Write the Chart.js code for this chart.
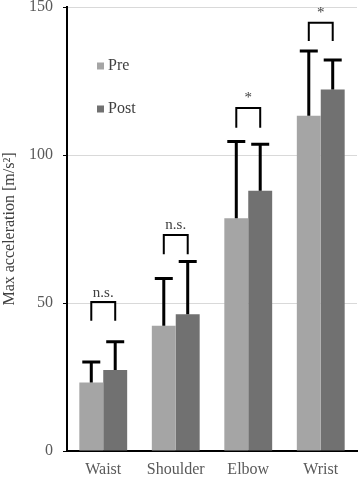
<!DOCTYPE html>
<html>
<head>
<meta charset="utf-8">
<script src="https://cdn.jsdelivr.net/npm/chart.js@4.4.1/dist/chart.umd.min.js"></script>
<style>
  html, body { margin: 0; padding: 0; background: #fff; }
  #wrap { width: 359px; height: 477px; }
</style>
</head>
<body>
<div id="wrap"><canvas id="accChart" width="359" height="477"></canvas></div>
<script>
// data
const categories = ['Waist', 'Shoulder', 'Elbow', 'Wrist'];
const preMean = [23.1, 42.3, 78.6, 113.3];
const preSD = [7.0, 16.0, 26.0, 21.8];
const postMean = [27.4, 46.2, 87.9, 122.1];
const postSD = [9.5, 17.8, 15.7, 10.0];
// significance brackets: top of bracket, bottom of legs, label
const bracketTop = [50.3, 73.0, 115.9, 144.7];
const bracketLeg = [44.0, 66.5, 109.2, 138.5];
const bracketText = ['n.s.', 'n.s.', '*', '*'];
const yTicks = [0, 50, 100, 150];

const serif = "'Liberation Serif', 'Times New Roman', serif";

// error bars (upper only, with caps)
const errorBars = {
    id: 'errorBars',
    afterDatasetsDraw(chart) {
        const c = chart.ctx;
        const y = chart.scales.y;
        const sds = [preSD, postSD];
        c.save();
        c.strokeStyle = '#000';
        c.lineWidth = 3;
        chart.data.datasets.forEach((ds, di) => {
            chart.getDatasetMeta(di).data.forEach((bar, i) => {
                const top = y.getPixelForValue(ds.data[i] + sds[di][i]);
                c.beginPath();
                c.moveTo(bar.x, bar.y);
                c.lineTo(bar.x, top);
                c.moveTo(bar.x - 9, top);
                c.lineTo(bar.x + 9, top);
                c.stroke();
            });
        });
        c.restore();
    }
};

// pre/post comparison brackets
const brackets = {
    id: 'brackets',
    afterDatasetsDraw(chart) {
        const c = chart.ctx;
        const y = chart.scales.y;
        const a = chart.getDatasetMeta(0).data;
        const b = chart.getDatasetMeta(1).data;
        c.save();
        c.strokeStyle = '#000';
        c.lineWidth = 2;
        c.fillStyle = '#404040';
        c.font = '15px ' + serif;
        c.textAlign = 'center';
        c.textBaseline = 'bottom';
        categories.forEach((cat, i) => {
            const top = y.getPixelForValue(bracketTop[i]);
            const leg = y.getPixelForValue(bracketLeg[i]);
            c.beginPath();
            c.moveTo(a[i].x, leg);
            c.lineTo(a[i].x, top);
            c.lineTo(b[i].x, top);
            c.lineTo(b[i].x, leg);
            c.stroke();
            c.fillText(bracketText[i], (a[i].x + b[i].x) / 2, top - 2);
        });
        c.restore();
    }
};

// legend sitting inside the plot, top left
const innerLegend = {
    id: 'innerLegend',
    afterDraw(chart) {
        const c = chart.ctx;
        const area = chart.chartArea;
        c.save();
        c.font = '16px ' + serif;
        c.textBaseline = 'middle';
        chart.data.datasets.forEach((ds, i) => {
            const cy = area.top + 59 + i * 43;
            c.fillStyle = ds.backgroundColor;
            c.fillRect(area.left + 30, cy - 3.5, 7, 7);
            c.fillStyle = '#404040';
            c.fillText(ds.label, area.left + 41, cy);
        });
        c.restore();
    }
};

// drop the label overhang padding so the plot fills the canvas like the original
function noOverhang(s) {
    s.paddingTop = 0;
    s.paddingBottom = 0;
    s.paddingLeft = 0;
    s.paddingRight = 0;
}

new Chart(document.getElementById('accChart'), {
    type: 'bar',
    data: {
        labels: categories,
        datasets: [{
            label: 'Pre',
            data: preMean,
            backgroundColor: '#a5a5a5'
        }, {
            label: 'Post',
            data: postMean,
            backgroundColor: '#717171'
        }]
    },
    options: {
        responsive: false,
        animation: false,
        devicePixelRatio: 1,
        layout: { autoPadding: false, padding: { top: 7, right: 2, left: 0, bottom: 0 } },
        datasets: { bar: { categoryPercentage: 0.66, barPercentage: 1.0 } },
        plugins: {
            legend: { display: false },
            tooltip: { enabled: false }
        },
        scales: {
            x: {
                grid: { display: false, drawTicks: false },
                border: { display: true, color: '#000', width: 2 },
                ticks: { color: '#595959', font: { family: serif, size: 16 }, padding: 9 },
                afterFit(s) { s.height = 26; noOverhang(s); }
            },
            y: {
                min: 0,
                max: 150,
                afterBuildTicks(s) { s.ticks = yTicks.map(v => ({ value: v })); },
                grid: { color: '#d9d9d9', lineWidth: 1, tickColor: '#000', tickLength: 4 },
                border: { display: true, color: '#000', width: 2 },
                ticks: { color: '#595959', font: { family: serif, size: 16 }, padding: 10 },
                title: {
                    display: true,
                    text: 'Max acceleration [m/s²]',
                    color: '#404040',
                    font: { family: serif, size: 16 },
                    padding: { top: 0, bottom: 0 }
                },
                afterFit(s) { s.width = 67; noOverhang(s); }
            }
        }
    },
    plugins: [errorBars, brackets, innerLegend]
});
</script>
</body>
</html>
